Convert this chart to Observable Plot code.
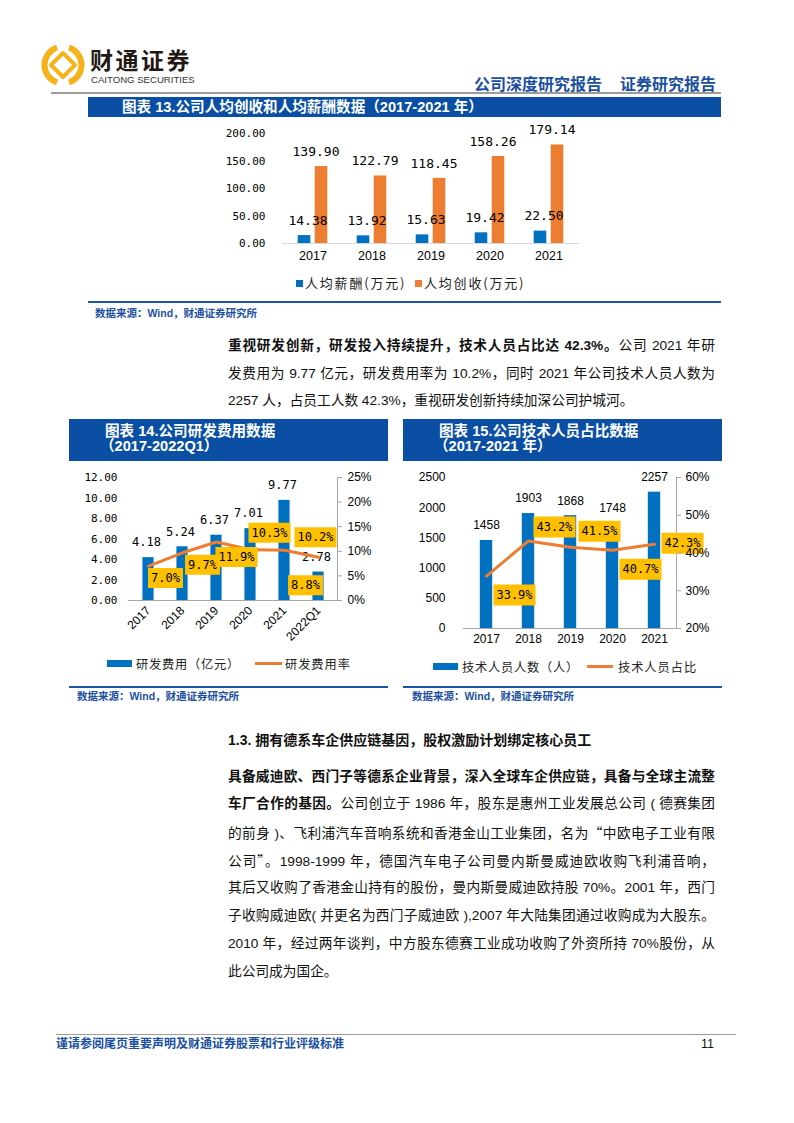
<!DOCTYPE html>
<html lang="zh-CN">
<head>
<meta charset="utf-8">
<script src="https://cdn.jsdelivr.net/npm/d3@7"></script>
<script src="https://cdn.jsdelivr.net/npm/@observablehq/plot@0.6"></script>
<style>
html,body{margin:0;padding:0;background:#fff;}
body{position:relative;width:794px;height:1123px;overflow:hidden;font-family:"Liberation Sans","Noto Sans CJK SC",sans-serif;color:#111;}
.abs{position:absolute;white-space:nowrap;}
.tbar{position:absolute;background:#0A4FA3;}
.tbar-t{position:absolute;color:#fff;font-weight:700;font-size:14.6px;line-height:16px;white-space:nowrap;}
.src-line{position:absolute;height:1.5px;background:#1B56A6;}
.src{position:absolute;font-weight:700;font-size:10.5px;line-height:12px;color:#1B4F9F;white-space:nowrap;}
.pl{position:absolute;left:228px;width:487px;font-size:13.7px;line-height:20px;height:20px;color:#111;text-align:justify;text-align-last:justify;}
.pl.last{text-align:left;text-align-last:left;}
.cjk{font-family:"Noto Sans CJK SC",sans-serif;}
.leg{position:absolute;font-family:"Noto Sans CJK SC",sans-serif;color:#222;white-space:nowrap;line-height:16px;}
.sw{position:absolute;}
</style>
</head>
<body>
<!-- header -->
<svg style="position:absolute;left:41px;top:43px" width="44" height="44" viewBox="-22 -22 44 44">
  <g fill="none" stroke="#F5B21B" stroke-width="6">
    <path d="M -6,-17.5 A 18.5 18.5 0 0 0 -6,17.5"/>
    <path d="M 6,-17.5 A 18.5 18.5 0 0 1 6,17.5"/>
  </g>
  <path d="M0,-12 L12,0 L0,12 L-12,0 Z" fill="none" stroke="#F5B21B" stroke-width="4" stroke-linejoin="round"/>
</svg>
<div class="abs" style="left:90px;top:46px;font-size:23px;line-height:26px;font-weight:700;letter-spacing:2.5px;color:#231815;font-family:'Noto Sans CJK SC',sans-serif;">财通证券</div>
<div class="abs" style="left:91px;top:74px;font-size:9.6px;line-height:12px;color:#333;">CAITONG SECURITIES</div>
<div class="abs" style="right:78px;top:76px;font-size:16px;line-height:18px;font-weight:700;color:#1B4F9F;">公司深度研究报告<span style="display:inline-block;width:18px"></span>证券研究报告</div>
<div class="abs" style="left:51px;top:92px;width:670px;height:1.5px;background:#9C9C9C;"></div>

<!-- chart 13 frame -->
<div class="tbar" style="left:88px;top:97px;width:633px;height:20px;"></div>
<div class="tbar-t" style="left:122px;top:99px;">图表 13.公司人均创收和人均薪酬数据（2017-2021 年）</div>
<div id="c13"></div>
<div class="sw" style="left:296px;top:279.5px;width:7px;height:7px;background:#0070C0;"></div>
<div class="leg" style="left:305px;top:275px;font-size:13px;letter-spacing:1.8px;">人均薪酬(万元)</div>
<div class="sw" style="left:415px;top:279.5px;width:7px;height:7px;background:#ED7D31;"></div>
<div class="leg" style="left:424px;top:275px;font-size:13px;letter-spacing:1.8px;">人均创收(万元)</div>
<div class="src-line" style="left:88px;top:301px;width:633px;"></div>
<div class="src" style="left:95px;top:307px;">数据来源：Wind，财通证券研究所</div>

<!-- paragraph 1 -->
<div class="pl" style="top:336px;"><b>重视研发创新，研发投入持续提升，技术人员占比达 42.3%。</b>公司 2021 年研</div>
<div class="pl" style="top:363.5px;">发费用为 9.77 亿元，研发费用率为 10.2%，同时 2021 年公司技术人员人数为</div>
<div class="pl last" style="top:391px;">2257 人，占员工人数 42.3%，重视研发创新持续加深公司护城河。</div>

<!-- chart 14 frame -->
<div class="tbar" style="left:69px;top:419px;width:319px;height:42px;"></div>
<div class="tbar-t" style="left:105px;top:423px;">图表 14.公司研发费用数据</div>
<div class="tbar-t" style="left:100px;top:438px;">（2017-2022Q1）</div>
<div id="c14"></div>
<div class="sw" style="left:107px;top:660px;width:25px;height:7px;background:#0070C0;"></div>
<div class="leg" style="left:136px;top:655.5px;font-size:12.2px;letter-spacing:0.8px;">研发费用（亿元）</div>
<div class="sw" style="left:255px;top:662px;width:27px;height:3px;background:#ED7D31;"></div>
<div class="leg" style="left:285px;top:655.5px;font-size:12.2px;letter-spacing:1px;">研发费用率</div>
<div class="src-line" style="left:69px;top:686px;width:319px;"></div>
<div class="src" style="left:77px;top:689.5px;">数据来源：Wind，财通证券研究所</div>

<!-- chart 15 frame -->
<div class="tbar" style="left:403px;top:419px;width:319px;height:42px;"></div>
<div class="tbar-t" style="left:439px;top:423px;">图表 15.公司技术人员占比数据</div>
<div class="tbar-t" style="left:434px;top:438px;">（2017-2021 年）</div>
<div id="c15"></div>
<div class="sw" style="left:433px;top:663px;width:25px;height:7px;background:#0070C0;"></div>
<div class="leg" style="left:462px;top:658.5px;font-size:12.2px;letter-spacing:0.8px;">技术人员人数（人）</div>
<div class="sw" style="left:587px;top:665px;width:26px;height:3px;background:#ED7D31;"></div>
<div class="leg" style="left:618px;top:658.5px;font-size:12.2px;letter-spacing:1px;">技术人员占比</div>
<div class="src-line" style="left:403px;top:686px;width:319px;"></div>
<div class="src" style="left:412px;top:689.5px;">数据来源：Wind，财通证券研究所</div>

<!-- section 1.3 -->
<div class="abs" style="left:228px;top:730px;font-size:14px;line-height:20px;font-weight:700;color:#111;">1.3. 拥有德系车企供应链基因，股权激励计划绑定核心员工</div>
<div class="pl" style="top:766.5px;"><b>具备威迪欧、西门子等德系企业背景，深入全球车企供应链，具备与全球主流整</b></div>
<div class="pl" style="top:794.4px;"><b>车厂合作的基因。</b>公司创立于 1986 年，股东是惠州工业发展总公司 ( 德赛集团</div>
<div class="pl" style="top:822.3px;">的前身 )、飞利浦汽车音响系统和香港金山工业集团，名为<span class="cjk">“</span>中欧电子工业有限</div>
<div class="pl" style="top:850.2px;">公司<span class="cjk">”</span>。1998-1999 年，德国汽车电子公司曼内斯曼威迪欧收购飞利浦音响，</div>
<div class="pl" style="top:878.1px;">其后又收购了香港金山持有的股份，曼内斯曼威迪欧持股 70%。2001 年，西门</div>
<div class="pl" style="top:906px;">子收购威迪欧( 并更名为西门子威迪欧 ),2007 年大陆集团通过收购成为大股东。</div>
<div class="pl" style="top:933.9px;">2010 年，经过两年谈判，中方股东德赛工业成功收购了外资所持 70%股份，从</div>
<div class="pl last" style="top:961.8px;">此公司成为国企。</div>

<!-- footer -->
<div class="abs" style="left:56px;top:1034px;width:680px;height:1px;background:#9C9C9C;"></div>
<div class="abs" style="left:56px;top:1037px;font-size:12px;line-height:14px;font-weight:700;color:#1B4F9F;">谨请参阅尾页重要声明及财通证券股票和行业评级标准</div>
<div class="abs" style="left:701px;top:1037px;font-size:12.5px;line-height:14px;color:#111;">11</div>

<script>
// ---------------- data ----------------
const years13 = ["2017", "2018", "2019", "2020", "2021"];
const salary13 = [14.38, 13.92, 15.63, 19.42, 22.50];      // 人均薪酬(万元)
const revenue13 = [139.90, 122.79, 118.45, 158.26, 179.14]; // 人均创收(万元)
const ticks13 = [0, 50, 100, 150, 200];

const years14 = ["2017", "2018", "2019", "2020", "2021", "2022Q1"];
const rdExpense = [4.18, 5.24, 6.37, 7.01, 9.77, 2.78];     // 研发费用(亿元)
const rdRate = [7.0, 9.7, 11.9, 10.3, 10.2, 8.8];           // 研发费用率(%)
const ticks14Left = [0, 2, 4, 6, 8, 10, 12];
const ticks14Right = [0, 5, 10, 15, 20, 25];

const years15 = ["2017", "2018", "2019", "2020", "2021"];
const techStaff = [1458, 1903, 1868, 1748, 2257];           // 技术人员人数(人)
const techShare = [33.9, 43.2, 41.5, 40.7, 42.3];           // 技术人员占比(%)
const ticks15Left = [0, 500, 1000, 1500, 2000, 2500];
const ticks15Right = [20, 30, 40, 50, 60];

// label placement (pixel offsets of the boxed line labels)
const rdRateLabelOffset = [[17, 12], [20, 12], [20, 15], [19, -17], [31, -13], [-13, 28]];
const techShareLabelOffset = [[28, 19], [26, -14], [29, -16], [28, 19], [28, -1]];

// ---------------- styles ----------------
const MONO = "DejaVu Sans Mono, monospace";
const SANS = "Liberation Sans, Noto Sans CJK SC, sans-serif";
const BLUE = "#0070C0", ORANGE = "#ED7D31", GOLD = "#FFC000", AXIS = "#A6A6A6";
const baseStyle = {fontFamily: SANS, color: "#000", background: "transparent", overflow: "visible"};

function mount(id, svg, left, top) {
  svg.style.position = "absolute";
  svg.style.left = left + "px";
  svg.style.top = top + "px";
  document.getElementById(id).replaceWith(svg);
}
function boxSymbol(w, h) { return {draw(ctx) { ctx.rect(-w / 2, -h / 2, w, h); }}; }
function boxedLabels(rows, yAcc, textOf, offsets, h) {
  return rows.flatMap((d, i) => {
    const [dx, dy] = offsets[i];
    const t = textOf(d);
    const w = t.length * 7.22 + 6;
    return [
      Plot.dot([d], {x: "year", y: yAcc, dx, dy, symbol: boxSymbol(w, h), fill: GOLD}),
      Plot.text([d], {x: "year", y: yAcc, dx, dy, text: () => t, fontFamily: MONO, fontSize: 12, fill: "#000"})
    ];
  });
}

// ---------------- chart 13 ----------------
{
  const rows = years13.map((year, i) => ({year, salary: salary13[i], revenue: revenue13[i]}));
  const W = 400, H = 150, ML = 82, MR = 21, MT = 13, MB = 27;
  const bw = (W - ML - MR) / years13.length, barW = 13, off = 8.5, ins = (bw - barW) / 2;
  const svg = Plot.plot({
    width: W, height: H, marginLeft: ML, marginRight: MR, marginTop: MT, marginBottom: MB,
    x: {type: "band", domain: years13, padding: 0},
    y: {domain: [0, 200]},
    style: baseStyle,
    marks: [
      Plot.ruleY([0], {stroke: "#D9D9D9", strokeWidth: 1.2}),
      Plot.barY(rows, {x: "year", y: "salary", fill: BLUE, insetLeft: ins, insetRight: ins, dx: -off}),
      Plot.barY(rows, {x: "year", y: "revenue", fill: ORANGE, insetLeft: ins, insetRight: ins, dx: off}),
      Plot.text(rows, {x: "year", y: "salary", text: d => d.salary.toFixed(2), dx: -5, dy: -15, fontFamily: MONO, fontSize: 13}),
      Plot.text(rows, {x: "year", y: "revenue", text: d => d.revenue.toFixed(2), dx: 3, dy: -15, fontFamily: MONO, fontSize: 13}),
      Plot.axisY(ticks13, {tickSize: 0, tickPadding: 17, tickFormat: d => d.toFixed(2), fontFamily: MONO, fontSize: 11, label: null}),
      Plot.axisX({tickSize: 0, tickPadding: 8, fontSize: 12.5, label: null})
    ]
  });
  mount("c13", svg, 200, 120);
}

// ---------------- chart 14 ----------------
{
  const rows = years14.map((year, i) => ({year, expense: rdExpense[i], rate: rdRate[i]}));
  const yMax = 12, rMax = 25, toLeft = r => r / rMax * yMax;
  const W = 330, H = 180, ML = 68, MR = 53, MT = 12, MB = 45;
  const bw = (W - ML - MR) / years14.length, ins = (bw - 12) / 2;
  const svg = Plot.plot({
    width: W, height: H, marginLeft: ML, marginRight: MR, marginTop: MT, marginBottom: MB,
    x: {type: "band", domain: years14, padding: 0},
    y: {domain: [0, yMax]},
    style: baseStyle,
    marks: [
      Plot.ruleY([0], {stroke: AXIS}),
      Plot.frame({anchor: "right", stroke: AXIS}),
      Plot.barY(rows, {x: "year", y: "expense", fill: BLUE, insetLeft: ins, insetRight: ins}),
      Plot.text(rows, {x: "year", y: "expense", text: d => d.expense.toFixed(2), dx: -2, dy: -15, fontFamily: MONO, fontSize: 12}),
      Plot.line(rows, {x: "year", y: d => toLeft(d.rate), stroke: ORANGE, strokeWidth: 3}),
      ...boxedLabels(rows, d => toLeft(d.rate), d => d.rate.toFixed(1) + "%", rdRateLabelOffset, 20),
      Plot.axisY(ticks14Left, {anchor: "left", tickSize: 0, tickPadding: 11, tickFormat: d => d.toFixed(2), fontFamily: MONO, fontSize: 11, label: null}),
      Plot.axisY(ticks14Right.map(toLeft), {anchor: "right", tickSize: 4, tickPadding: 6, stroke: AXIS, tickFormat: d => Math.round(d / yMax * rMax) + "%", fontSize: 12, label: null}),
      Plot.axisX({tickSize: 0, tickRotate: -45, tickPadding: 8, fontSize: 12, label: null})
    ]
  });
  mount("c14", svg, 60, 465);
}

// ---------------- chart 15 ----------------
{
  const rows = years15.map((year, i) => ({year, staff: techStaff[i], share: techShare[i]}));
  const yMax = 2500, rMin = 20, rMax = 60, toLeft = r => (r - rMin) / (rMax - rMin) * yMax;
  const W = 330, H = 190, ML = 63, MR = 54, MT = 12, MB = 27;
  const bw = (W - ML - MR) / years15.length, ins = (bw - 13) / 2;
  const svg = Plot.plot({
    width: W, height: H, marginLeft: ML, marginRight: MR, marginTop: MT, marginBottom: MB,
    x: {type: "band", domain: years15, padding: 0},
    y: {domain: [0, yMax]},
    style: baseStyle,
    marks: [
      Plot.ruleY([0], {stroke: AXIS}),
      Plot.frame({anchor: "right", stroke: AXIS}),
      Plot.barY(rows, {x: "year", y: "staff", fill: BLUE, insetLeft: ins, insetRight: ins}),
      Plot.text(rows, {x: "year", y: "staff", text: d => String(d.staff), dy: -15, fontSize: 12}),
      Plot.line(rows, {x: "year", y: d => toLeft(d.share), stroke: ORANGE, strokeWidth: 3}),
      ...boxedLabels(rows, d => toLeft(d.share), d => d.share.toFixed(1) + "%", techShareLabelOffset, 21),
      Plot.axisY(ticks15Left, {anchor: "left", tickSize: 0, tickPadding: 18, tickFormat: d => String(d), fontSize: 12, label: null}),
      Plot.axisY(ticks15Right.map(toLeft), {anchor: "right", tickSize: 4, tickPadding: 5, stroke: AXIS, tickFormat: d => Math.round(d / yMax * (rMax - rMin) + rMin) + "%", fontSize: 12, label: null}),
      Plot.axisX({tickSize: 0, tickPadding: 6, fontSize: 12, label: null})
    ]
  });
  mount("c15", svg, 400, 465);
}
</script>
</body>
</html>
